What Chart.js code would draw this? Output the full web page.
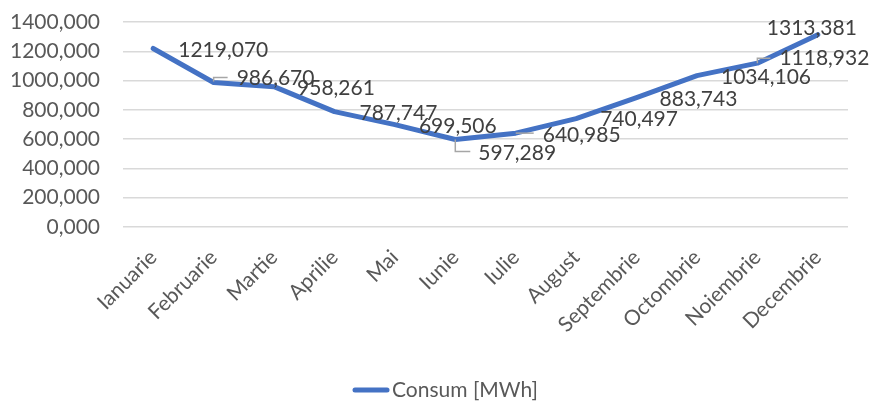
<!DOCTYPE html>
<html>
<head>
<meta charset="utf-8">
<script src="https://cdn.jsdelivr.net/npm/chart.js@4"></script>
<style>
  html, body { margin: 0; padding: 0; background: #ffffff; }
  #wrap { width: 870px; height: 401px; position: relative; }
</style>
</head>
<body>
<div id="wrap"><canvas id="c"></canvas></div>
<script>
// Monthly electricity consumption
const months = ['Ianuarie', 'Februarie', 'Martie', 'Aprilie', 'Mai', 'Iunie',
  'Iulie', 'August', 'Septembrie', 'Octombrie', 'Noiembrie', 'Decembrie'];
const consum = [1219.070, 986.670, 958.261, 787.747, 699.506, 597.289,
  640.985, 740.497, 883.743, 1034.106, 1118.932, 1313.381];
const seriesName = 'Consum [MWh]';
const yTicks = [0, 200, 400, 600, 800, 1000, 1200, 1400];

const FONT = 'Lato, "Open Sans", sans-serif';
const FS = 21;
const LINE_COLOR = '#4472C4';
const fmt = v => v.toFixed(3).replace('.', ',');

// Value labels beside each point, with short leader lines where they are pushed away
const valueLabels = {
  id: 'valueLabels',
  afterDatasetsDraw(chart, args, opts) {
    const ctx = chart.ctx;
    const meta = chart.getDatasetMeta(0);
    const data = chart.data.datasets[0].data;
    ctx.save();
    ctx.font = opts.font;
    ctx.fillStyle = opts.color;
    ctx.textBaseline = 'middle';
    ctx.textAlign = 'left';
    meta.data.forEach((pt, i) => {
      const o = opts.offsets[i];
      if (o.leader) {
        ctx.beginPath();
        ctx.strokeStyle = opts.leaderColor;
        ctx.lineWidth = 1.5;
        o.leader.forEach((p, k) => {
          const px = pt.x + p[0], py = pt.y + p[1];
          if (k === 0) ctx.moveTo(px, py); else ctx.lineTo(px, py);
        });
        ctx.stroke();
      }
      ctx.fillText(fmt(data[i]), pt.x + o.dx, pt.y + o.dy);
    });
    ctx.restore();
  }
};

// Single-entry legend under the axis: a short line sample followed by the series name
const lineLegend = {
  id: 'lineLegend',
  afterDraw(chart, args, opts) {
    const ctx = chart.ctx;
    const ds = chart.data.datasets[0];
    ctx.save();
    ctx.font = opts.font;
    const tw = ctx.measureText(ds.label).width;
    const total = opts.sample + opts.gap + tw;
    const x0 = chart.width / 2 + opts.shift - total / 2;
    const y = chart.height - opts.bottom;
    ctx.strokeStyle = ds.borderColor;
    ctx.lineWidth = 5;
    ctx.lineCap = 'round';
    ctx.beginPath();
    ctx.moveTo(x0 + 2, y);
    ctx.lineTo(x0 + opts.sample - 2, y);
    ctx.stroke();
    ctx.fillStyle = opts.color;
    ctx.textBaseline = 'middle';
    ctx.textAlign = 'left';
    ctx.fillText(ds.label, x0 + opts.sample + opts.gap, y);
    ctx.restore();
  }
};

new Chart(document.getElementById('c'), {
  type: 'line',
  data: {
    labels: months,
    datasets: [{
      label: seriesName,
      data: consum,
      borderColor: LINE_COLOR,
      backgroundColor: LINE_COLOR,
      borderWidth: 5,
      borderCapStyle: 'round',
      borderJoinStyle: 'round',
      pointRadius: 0,
      tension: 0,
      fill: false
    }]
  },
  options: {
    responsive: true,
    maintainAspectRatio: false,
    animation: false,
    devicePixelRatio: 1,
    layout: { autoPadding: false, padding: { left: 12, right: 22, top: 22, bottom: 40 } },
    scales: {
      x: {
        offset: true,
        afterFit(scale) {
          scale.height = 134;
          scale.paddingLeft = 0; scale.paddingRight = 0;
          scale.paddingTop = 0; scale.paddingBottom = 0;
        },
        grid: { display: false, drawTicks: false },
        border: { display: false },
        ticks: {
          color: '#595959',
          font: { family: FONT, size: FS },
          minRotation: 45,
          maxRotation: 45,
          padding: 18,
          autoSkip: false
        }
      },
      y: {
        min: 0,
        max: 1400,
        afterBuildTicks(scale) { scale.ticks = yTicks.map(v => ({ value: v })); },
        afterFit(scale) {
          scale.width = 111;
          scale.paddingTop = 0; scale.paddingBottom = 0;
          scale.paddingLeft = 0; scale.paddingRight = 0;
        },
        grid: { color: '#d9d9d9', lineWidth: 1.5, drawTicks: false },
        border: { display: false },
        ticks: {
          color: '#595959',
          font: { family: FONT, size: FS, lineHeight: 1 },
          padding: 23,
          autoSkip: false,
          callback: v => fmt(v)
        }
      }
    },
    plugins: {
      legend: { display: false },
      tooltip: { enabled: false },
      lineLegend: {
        font: FS + 'px ' + FONT,
        color: '#595959',
        sample: 36,
        gap: 3,
        shift: 10.5,
        bottom: 11
      },
      valueLabels: {
        font: FS + 'px ' + FONT,
        color: '#404040',
        leaderColor: '#a6a6a6',
        offsets: [
          { dx: 25, dy: 2 },
          { dx: 23, dy: -4, leader: [[0, -1], [0, -5], [14, -5]] },
          { dx: 23, dy: 1.5 },
          { dx: 25, dy: 1.5 },
          { dx: 24, dy: 1.5 },
          { dx: 23, dy: 14, leader: [[0, 0], [0, 12], [15, 12]] },
          { dx: 27, dy: 2, leader: [[0, 0], [18, 0]] },
          { dx: 24, dy: 0.5 },
          { dx: 23, dy: 1.5 },
          { dx: 24, dy: 1.5 },
          { dx: 22, dy: -5, leader: [[0, 0], [0, -5], [13, -5]] },
          { dx: -51, dy: -6.5 }
        ]
      }
    }
  },
  plugins: [valueLabels, lineLegend]
});
</script>
</body>
</html>
